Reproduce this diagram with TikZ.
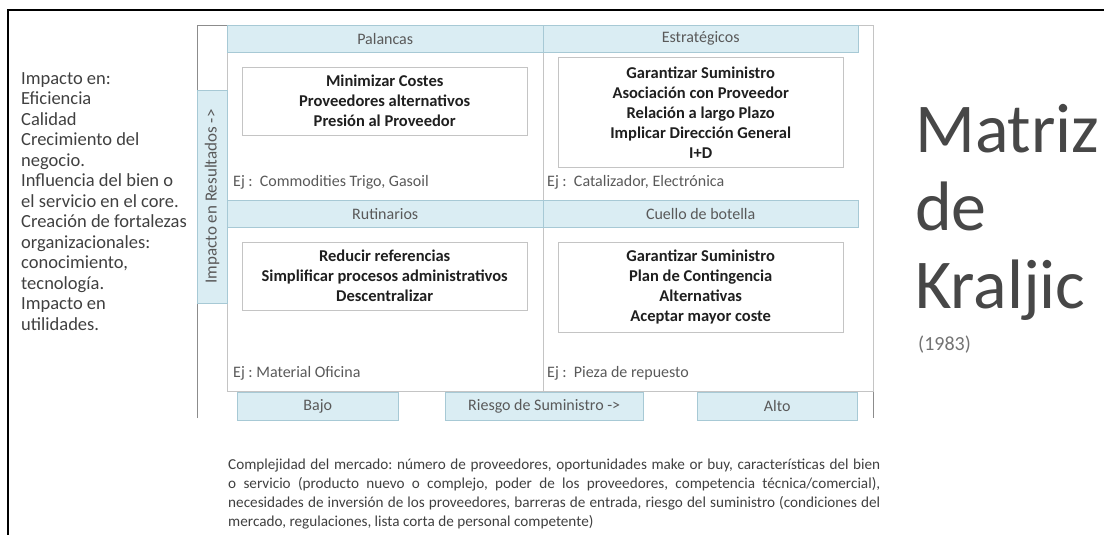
\documentclass[tikz,border=0pt]{standalone}
\usepackage{fontspec}
\setmainfont{Carlito}
\frenchspacing
\definecolor{bandfill}{HTML}{DAEDF3}
\definecolor{bandline}{HTML}{A7C9D5}
\definecolor{framegray}{HTML}{8C8C8C}
\definecolor{cellgray}{HTML}{C4C4C4}
\definecolor{textgray}{HTML}{404040}
\definecolor{labelgray}{HTML}{595959}

\begin{document}
\begin{tikzpicture}[x=10pt,y=-10pt,
  band/.style={rectangle,draw=bandline,fill=bandfill,anchor=north west,inner sep=0pt,text=labelgray,font=\fontsize{16}{19}\selectfont},
  tactic/.style={rectangle,draw=cellgray,fill=white,anchor=north west,inner sep=0pt,align=center,minimum width=285pt,text=black!88,font=\bfseries\fontsize{16.5}{20}\selectfont},
  example/.style={anchor=west,inner sep=0pt,text=labelgray,font=\fontsize{16}{19}\selectfont}]
\useasboundingbox (0,0) rectangle (110.4,53.5);
\draw[line width=1.5pt] (0.8,53.5) -- (0.8,1.0) -- (110.4,1.0);
\draw[framegray,line width=0.9pt] (19.7,41.8) -- (19.7,2.5) -- (87.3,2.5) -- (87.3,41.8);
\draw[cellgray,line width=0.8pt] (22.7,2.5) rectangle (87.3,39.1);
\draw[cellgray,line width=0.8pt] (54.3,5.2) -- (54.3,39.1);
\path (22.7,2.5) node[band,minimum width=316pt,minimum height=27pt](palancas) {Palancas}
(54.3,2.5) node[band,minimum width=315pt,minimum height=27pt](estrategicos) {Estratégicos}
(22.7,20.0) node[band,minimum width=316pt,minimum height=27pt](rutinarios) {Rutinarios}
(54.3,20.0) node[band,minimum width=315pt,minimum height=27pt](cuello) {Cuello de botella}
(21.2,19.65) node[band,anchor=center,rotate=90,minimum width=213pt,minimum height=30pt,font=\fontsize{17}{19}\selectfont](impacto) {Impacto en Resultados ->}
(23.7,39.2) node[band,minimum width=161pt,minimum height=28pt](bajo) {Bajo}
(44.5,39.2) node[band,minimum width=198pt,minimum height=28pt](riesgo) {Riesgo de Suministro ->}
(69.7,39.2) node[band,minimum width=160pt,minimum height=28pt](alto) {Alto}
;
\path (24.2,6.7) node[tactic,minimum height=68pt](palancas_box) {Minimizar Costes\\Proveedores alternativos\\Presión al Proveedor}
(55.8,5.7) node[tactic,minimum height=110pt](estrategicos_box) {Garantizar Suministro\\Asociación con Proveedor\\Relación a largo Plazo\\Implicar Dirección General\\I+D}
(24.2,24.2) node[tactic,minimum height=68pt](rutinarios_box) {Reducir referencias\\Simplificar procesos administrativos\\Descentralizar}
(55.8,24.2) node[tactic,minimum height=90pt](cuello_box) {Garantizar Suministro\\Plan de Contingencia\\Alternativas\\Aceptar mayor coste}
;
\path (23.3,18.2) node[example](palancas_ej) {Ej :\ \ Commodities Trigo, Gasoil}
(54.7,18.2) node[example](estrategicos_ej) {Ej :\ \ Catalizador, Electrónica}
(23.3,37.3) node[example](rutinarios_ej) {Ej : Material Oficina}
(54.7,37.3) node[example](cuello_ej) {Ej :\ \ Pieza de repuesto}
;
\path (2.1,7.2) node[anchor=north west,inner sep=0pt,align=left,text=textgray,font=\fontsize{18.5}{20.5}\selectfont](impacto_txt) {Impacto en:\\Eficiencia\\Calidad\\Crecimiento del\\negocio.\\Influencia del bien o\\el servicio en el core.\\Creación de fortalezas\\organizacionales:\\conocimiento,\\tecnología.\\Impacto en\\utilidades.}
(22.8,45.9) node[anchor=north west,inner sep=0pt,text width=652pt,align=justify,text=textgray,font=\fontsize{15.2}{18.8}\selectfont](complejidad) {Complejidad del mercado: número de proveedores, oportunidades make or buy, características del bien\linebreak o servicio (producto nuevo o complejo, poder de los proveedores, competencia técnica/comercial),\linebreak necesidades de inversión de los proveedores, barreras de entrada, riesgo del suministro (condiciones del\linebreak mercado, regulaciones, lista corta de personal competente)}
;
\path (91.5,15.3) node[anchor=base west,inner sep=0pt,text=black!72,font=\fontsize{70}{77}\selectfont](matriz) {Matriz}
(91.5,23.0) node[anchor=base west,inner sep=0pt,text=black!72,font=\fontsize{70}{77}\selectfont](de) {de}
(91.5,30.8) node[anchor=base west,inner sep=0pt,text=black!72,font=\fontsize{70}{77}\selectfont](kraljic) {Kraljic}
(91.8,35.0) node[anchor=base west,inner sep=0pt,text=black!55,font=\fontsize{20}{24}\selectfont](year) {(1983)}
;
\end{tikzpicture}
\end{document}
